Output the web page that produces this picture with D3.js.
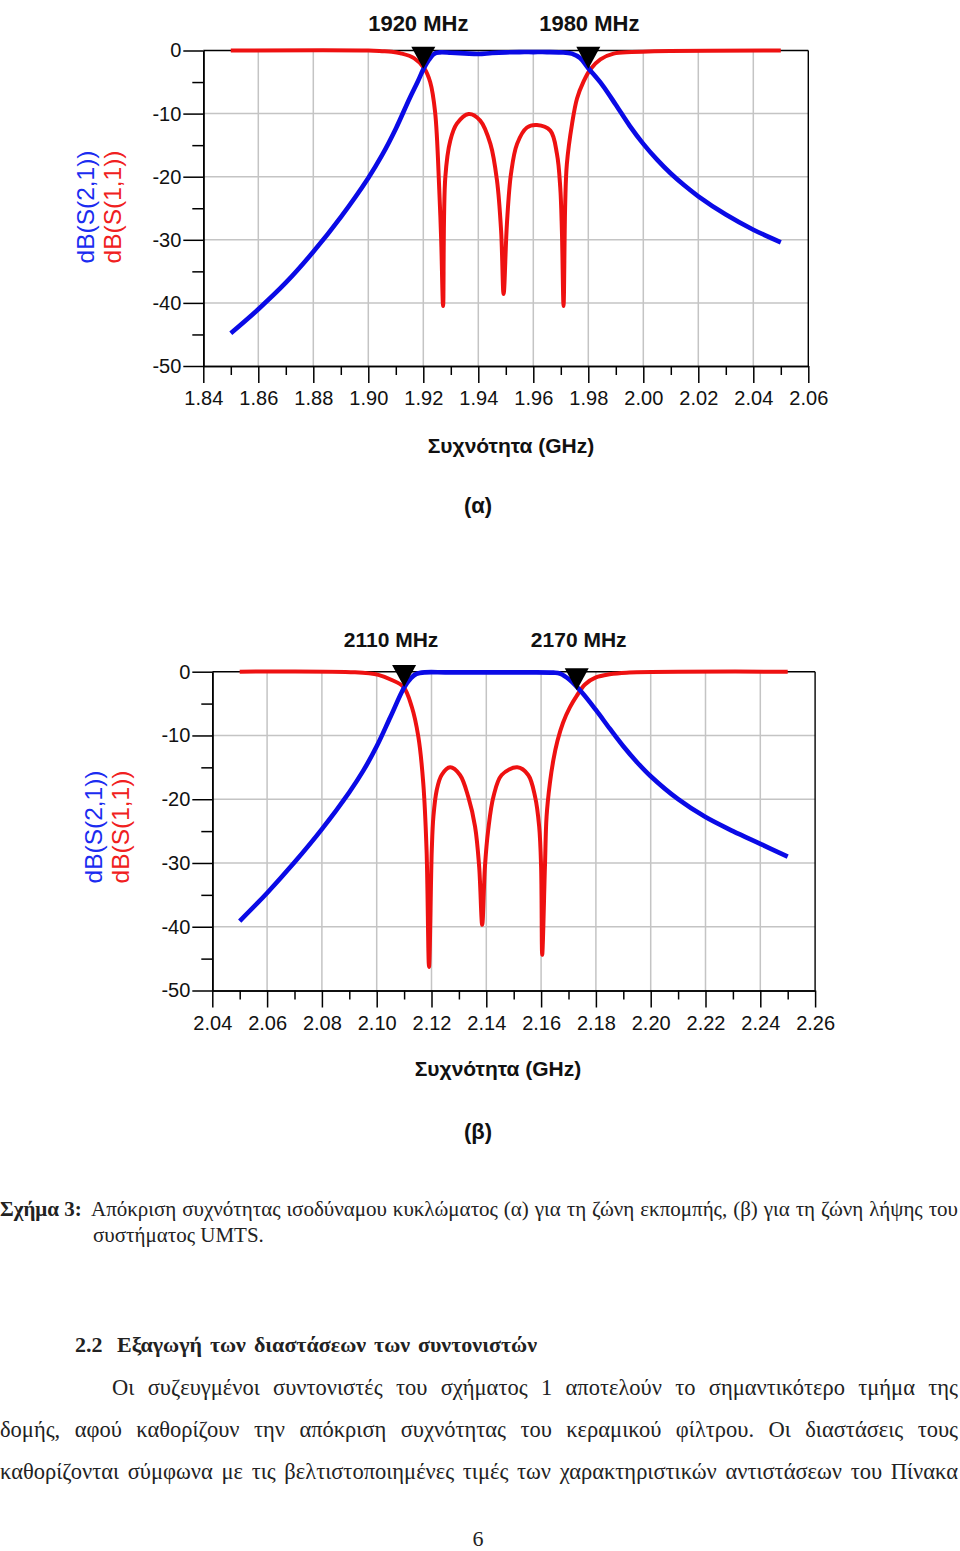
<!DOCTYPE html>
<html>
<head>
<meta charset="utf-8">
<script src="https://cdn.jsdelivr.net/npm/d3@7"></script>
<style>
  html, body { margin: 0; padding: 0; background: #ffffff; }
  svg { display: block; }
</style>
</head>
<body>
<svg id="page" width="960" height="1551"></svg>
<script>
// ---------------- DATA ----------------
// Chart (α): transmit band
const alphaXTickLabels = ["1.84","1.86","1.88","1.90","1.92","1.94","1.96","1.98","2.00","2.02","2.04","2.06"];
const alphaS21Freq = [1.850, 1.860, 1.870, 1.880, 1.890, 1.900, 1.905, 1.910, 1.915, 1.918, 1.920, 1.922, 1.924, 1.926, 1.930, 1.935, 1.940, 1.945, 1.950, 1.955, 1.960, 1.965, 1.970, 1.974, 1.977, 1.980, 1.985, 1.990, 1.995, 2.000, 2.005, 2.010, 2.015, 2.020, 2.030, 2.040, 2.050];
const alphaS21dB   = [-44.8, -41.0, -36.8, -31.9, -26.4, -20.2, -16.6, -12.4, -7.6, -4.9, -3.0, -1.5, -0.5, -0.3, -0.35, -0.45, -0.55, -0.4, -0.3, -0.25, -0.25, -0.25, -0.3, -0.5, -1.2, -2.8, -5.4, -8.6, -11.9, -14.8, -17.3, -19.5, -21.4, -23.1, -26.0, -28.4, -30.4];
const alphaS11Freq = [1.850, 1.900, 1.905, 1.9085, 1.9118, 1.9166, 1.9203, 1.9225, 1.9243, 1.9258, 1.9265, 1.9272, 1.9280, 1.9298, 1.9322, 1.9365, 1.9407, 1.9444, 1.9468, 1.9483, 1.9492, 1.9504, 1.9519, 1.9541, 1.9577, 1.9613, 1.9662, 1.9686, 1.9698, 1.9704, 1.9710, 1.9716, 1.9722, 1.9741, 1.9759, 1.9783, 1.9807, 1.9844, 1.9892, 1.9957, 2.0040, 2.0500];
const alphaS11dB   = [0, 0, -0.1, -0.2, -0.45, -1.2, -2.8, -5.0, -9.8, -22.0, -30.0, -40.5, -20.1, -14.3, -11.6, -10.05, -11.1, -14.8, -20.6, -28.6, -38.6, -27.5, -19.5, -14.8, -12.2, -11.8, -12.7, -16.4, -21.7, -28.6, -40.5, -24.3, -18.0, -11.6, -7.6, -4.9, -3.0, -1.4, -0.5, -0.25, -0.1, 0];
const alphaMarkerFreq = [1.920, 1.980];
const alphaMarkerdB   = [-2.9, -2.9];
const alphaMarkerLabels = ["1920 MHz", "1980 MHz"];

// Chart (β): receive band
const betaXTickLabels = ["2.04","2.06","2.08","2.10","2.12","2.14","2.16","2.18","2.20","2.22","2.24","2.26"];
const betaS21Freq = [2.050, 2.060, 2.070, 2.080, 2.090, 2.095, 2.100, 2.105, 2.110, 2.1125, 2.1145, 2.1176, 2.125, 2.135, 2.145, 2.155, 2.1645, 2.1669, 2.1705, 2.175, 2.180, 2.185, 2.190, 2.195, 2.200, 2.210, 2.220, 2.230, 2.240, 2.250];
const betaS21dB   = [-39.1, -34.7, -29.9, -24.7, -18.9, -15.6, -11.7, -7.1, -2.5, -1.0, -0.35, -0.1, -0.1, -0.1, -0.1, -0.1, -0.15, -0.3, -1.3, -3.3, -6.0, -8.9, -11.7, -14.2, -16.4, -20.0, -22.8, -25.0, -27.0, -29.0];
const betaS11Freq = [2.050, 2.0921, 2.1006, 2.1055, 2.1097, 2.1128, 2.1152, 2.1170, 2.1182, 2.1191, 2.1201, 2.1207, 2.1219, 2.1237, 2.1268, 2.1304, 2.1334, 2.1359, 2.1374, 2.1385, 2.1395, 2.1407, 2.1426, 2.1456, 2.1513, 2.1553, 2.1578, 2.1593, 2.1600, 2.1604, 2.1614, 2.1620, 2.1632, 2.1645, 2.1660, 2.1680, 2.1705, 2.1730, 2.1760, 2.1800, 2.1850, 2.1912, 2.2500];
const betaS11dB   = [0, -0.1, -0.5, -1.3, -2.35, -5.5, -10.2, -17.5, -28.0, -46.3, -28.0, -22.7, -18.6, -16.2, -15.0, -16.2, -19.6, -24.3, -30.6, -39.7, -30.6, -24.8, -19.6, -16.2, -15.0, -16.2, -19.6, -24.3, -30.6, -44.4, -30.6, -22.7, -17.5, -13.8, -10.8, -8.0, -5.6, -3.8, -2.0, -0.9, -0.4, -0.15, 0];
const betaMarkerFreq = [2.110, 2.173];
const betaMarkerdB   = [-2.4, -2.9];
const betaMarkerLabels = ["2110 MHz", "2170 MHz"];

const yTickLabels = ["0", "-10", "-20", "-30", "-40", "-50"];
const yTitleBlue = "dB(S(2,1))";
const yTitleRed  = "dB(S(1,1))";
const xTitle = "Συχνότητα (GHz)";
const panelLabels = ["(α)", "(β)"];

const captionBold = "Σχήμα 3:";
const captionLine1 = "Απόκριση συχνότητας ισοδύναμου κυκλώματος (α) για τη ζώνη εκπομπής, (β) για τη ζώνη λήψης του";
const captionLine2 = "συστήματος UMTS.";
const headingNum = "2.2";
const headingText = "Εξαγωγή των διαστάσεων των συντονιστών";
const paragraphLines = [
  "Οι συζευγμένοι συντονιστές του σχήματος 1 αποτελούν το σημαντικότερο τμήμα της",
  "δομής, αφού καθορίζουν την απόκριση συχνότητας του κεραμικού φίλτρου. Οι διαστάσεις τους",
  "καθορίζονται σύμφωνα με τις βελτιστοποιημένες τιμές των χαρακτηριστικών αντιστάσεων του Πίνακα"
];
const pageNumber = "6";

// ---------------- DRAWING ----------------
const svg = d3.select("#page");
svg.append("rect").attr("width", 960).attr("height", 1551).attr("fill", "#ffffff");

const BLUE = "#0a0ae6";
const RED = "#ee1111";
const SANS = "Liberation Sans, Arial, sans-serif";
const SERIF = "Liberation Serif, Times New Roman, serif";

function drawChart(c) {
  const g = svg.append("g");
  const majors = c.xTicks.map(Number);
  const x = d3.scaleLinear().domain([majors[0], majors[majors.length - 1]]).range([c.left, c.right]);
  const yVals = yTickLabels.map(Number);
  const y = d3.scaleLinear().domain([0, -50]).range([c.top, c.bottom]);
  const minorsX = d3.pairs(majors).map(p => (p[0] + p[1]) / 2);
  const minorsY = d3.pairs(yVals).map(p => (p[0] + p[1]) / 2);

  // grid
  g.append("g").selectAll("line").data(majors.slice(1, -1)).join("line")
    .attr("x1", d => x(d)).attr("x2", d => x(d))
    .attr("y1", y(0)).attr("y2", y(-50))
    .attr("stroke", "#c4c4c4").attr("stroke-width", 1.5);
  g.append("g").selectAll("line").data(yVals.slice(1, -1)).join("line")
    .attr("x1", x(majors[0])).attr("x2", x(majors[majors.length - 1]))
    .attr("y1", d => y(d)).attr("y2", d => y(d))
    .attr("stroke", "#c4c4c4").attr("stroke-width", 1.5);

  // border top & right
  g.append("line").attr("x1", c.left).attr("x2", c.right).attr("y1", y(0)).attr("y2", y(0))
    .attr("stroke", "#000").attr("stroke-width", 1.6);
  g.append("line").attr("x1", c.right).attr("x2", c.right).attr("y1", y(0)).attr("y2", y(-50))
    .attr("stroke", "#000").attr("stroke-width", 1.4);

  // axes
  const ax = g.append("g").attr("transform", `translate(0,${y(-50)})`)
    .call(d3.axisBottom(x).tickValues(majors).tickSize(17).tickSizeOuter(0).tickPadding(8)
      .tickFormat((d, i) => c.xTicks[i]));
  const axm = g.append("g").attr("transform", `translate(0,${y(-50)})`)
    .call(d3.axisBottom(x).tickValues(minorsX).tickSize(9).tickSizeOuter(0).tickFormat(""));
  const ay = g.append("g").attr("transform", `translate(${x(majors[0])},0)`)
    .call(d3.axisLeft(y).tickValues(yVals).tickSize(20).tickSizeOuter(0).tickPadding(2)
      .tickFormat((d, i) => yTickLabels[i]));
  const aym = g.append("g").attr("transform", `translate(${x(majors[0])},0)`)
    .call(d3.axisLeft(y).tickValues(minorsY).tickSize(11).tickSizeOuter(0).tickFormat(""));
  [ax, axm, ay, aym].forEach(a => {
    a.select(".domain").attr("stroke", "#000").attr("stroke-width", 1.6);
    a.selectAll(".tick line").attr("stroke", "#000").attr("stroke-width", 1.5);
  });
  ax.selectAll("text").attr("font-family", SANS).attr("font-size", 20).attr("fill", "#111");
  ay.selectAll("text").attr("font-family", SANS).attr("font-size", 20).attr("fill", "#111");

  // curves
  const line = d3.line().x(d => x(d[0])).y(d => y(d[1])).curve(d3.curveCatmullRom.alpha(0.5));
  const s11 = d3.zip(c.s11f, c.s11);
  const s21 = d3.zip(c.s21f, c.s21);
  g.append("path").attr("d", line(s11)).attr("fill", "none").attr("stroke", RED)
    .attr("stroke-width", 4).attr("stroke-linejoin", "round");
  g.append("path").attr("d", line(s21)).attr("fill", "none").attr("stroke", BLUE)
    .attr("stroke-width", 4.6).attr("stroke-linejoin", "round");

  // markers
  c.mf.forEach((f, i) => {
    const mx = x(f), my = y(c.md[i]);
    g.append("path").attr("d", `M${mx - 12},${my - 22}L${mx + 12},${my - 22}L${mx},${my}Z`).attr("fill", "#000");
    g.append("text").attr("x", mx + c.labelDx[i]).attr("y", c.labelY)
      .attr("text-anchor", "middle").attr("font-family", SANS).attr("font-weight", "bold")
      .attr("font-size", c.labelSize).attr("fill", "#111").text(c.ml[i]);
  });

  // y titles
  const yt = g.append("g");
  yt.append("text").attr("transform", `translate(${c.yTitleX},${c.yTitleY}) rotate(-90)`)
    .attr("text-anchor", "middle").attr("dominant-baseline", "central")
    .attr("font-family", SANS).attr("font-size", 24.5).attr("fill", "#1b2cf0").text(yTitleBlue);
  yt.append("text").attr("transform", `translate(${c.yTitleX + 27},${c.yTitleY}) rotate(-90)`)
    .attr("text-anchor", "middle").attr("dominant-baseline", "central")
    .attr("font-family", SANS).attr("font-size", 24.5).attr("fill", "#f02020").text(yTitleRed);

  // x title
  g.append("text").attr("x", c.xTitleX).attr("y", c.xTitleY).attr("text-anchor", "middle")
    .attr("font-family", SANS).attr("font-weight", "bold").attr("font-size", 21).attr("fill", "#111")
    .text(xTitle);

  // panel label
  g.append("text").attr("x", 478).attr("y", c.panelY).attr("text-anchor", "middle")
    .attr("font-family", SANS).attr("font-weight", "bold").attr("font-size", 22).attr("fill", "#111")
    .text(c.panel);
}

drawChart({
  xTicks: alphaXTickLabels, left: 203.3, right: 808.3, top: 50.5, bottom: 366,
  s21f: alphaS21Freq, s21: alphaS21dB, s11f: alphaS11Freq, s11: alphaS11dB,
  mf: alphaMarkerFreq, md: alphaMarkerdB, ml: alphaMarkerLabels, labelDx: [-5, 1], labelY: 31, labelSize: 22,
  yTitleX: 85, yTitleY: 207, xTitleX: 511, xTitleY: 453, panelY: 513, panel: panelLabels[0]
});
drawChart({
  xTicks: betaXTickLabels, left: 212.3, right: 815.1, top: 671.7, bottom: 990.5,
  s21f: betaS21Freq, s21: betaS21dB, s11f: betaS11Freq, s11: betaS11dB,
  mf: betaMarkerFreq, md: betaMarkerdB, ml: betaMarkerLabels, labelDx: [-13, 2], labelY: 647, labelSize: 21,
  yTitleX: 93, yTitleY: 827, xTitleX: 498, xTitleY: 1076, panelY: 1139, panel: panelLabels[1]
});

// ---------------- TEXT BLOCK ----------------
function justified(txt, x0, x1, yb, size, weight) {
  const t = svg.append("text").attr("x", x0).attr("y", yb).attr("font-family", SERIF)
    .attr("font-size", size).attr("font-weight", weight || "normal").attr("fill", "#222").text(txt);
  const natural = t.node().getComputedTextLength();
  const spaces = (txt.match(/ /g) || []).length;
  if (spaces > 0) t.attr("word-spacing", ((x1 - x0) - natural) / spaces);
  return t;
}
svg.append("text").attr("x", 0).attr("y", 1216).attr("font-family", SERIF).attr("font-size", 21)
  .attr("font-weight", "bold").attr("fill", "#222").text(captionBold);
justified(captionLine1, 91, 958, 1216, 21);
svg.append("text").attr("x", 93).attr("y", 1242).attr("font-family", SERIF).attr("font-size", 21)
  .attr("fill", "#222").text(captionLine2);

svg.append("text").attr("x", 75).attr("y", 1352).attr("font-family", SERIF).attr("font-size", 22)
  .attr("font-weight", "bold").attr("fill", "#222").text(headingNum);
justified(headingText, 117, 537, 1352, 22, "bold");

justified(paragraphLines[0], 112, 958, 1395, 22.5);
justified(paragraphLines[1], 0, 958, 1437, 22.5);
justified(paragraphLines[2], 0, 958, 1479, 22.5);

svg.append("text").attr("x", 478).attr("y", 1546).attr("text-anchor", "middle").attr("font-family", SERIF)
  .attr("font-size", 22).attr("fill", "#222").text(pageNumber);
</script>
</body>
</html>
